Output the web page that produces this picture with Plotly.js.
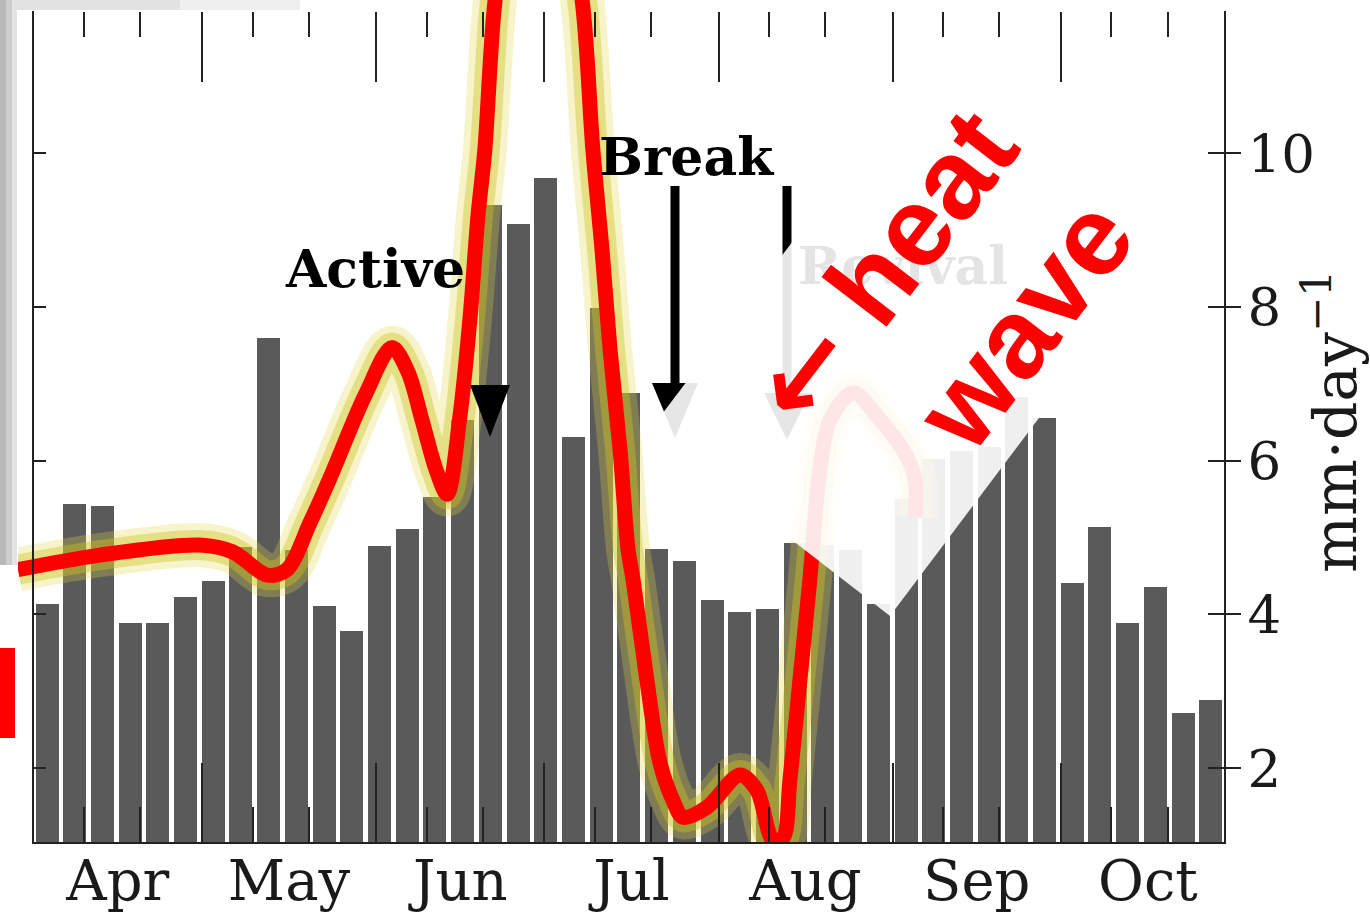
<!DOCTYPE html>
<html><head><meta charset="utf-8">
<script src="https://cdn.plot.ly/plotly-3.0.1.min.js"></script>
<style>html,body{margin:0;padding:0;background:#fff;}#chart{width:1370px;height:919px;}</style>
</head><body><div id="chart"></div>
<script>
// ---- data ----
const pentadRain = [4.13, 5.43, 5.41, 3.88, 3.88, 4.22, 4.43, 4.88, 7.59, 4.84,
  4.11, 3.78, 4.89, 5.11, 5.53, 6.53, 9.32, 9.08, 9.67, 6.31,
  7.98, 6.88, 4.85, 4.69, 4.19, 4.03, 4.07, 4.93, 4.90, 4.84,
  4.13, 5.50, 6.02, 6.13, 6.17, 6.82, 6.55, 4.41, 5.13, 3.88,
  4.36, 2.71, 2.89];
const curveX = [-1.05, 1.91, 5.52, 6.71, 7.94, 8.66, 9.49, 10.21, 11.48, 12.45,
  13.03, 13.53, 14.04, 14.44, 14.90, 15.27, 15.55, 15.80, 16.17, 16.71, 17.72,
  18.69, 19.31, 19.70, 20.03, 20.32, 20.68, 20.97, 21.15, 21.65, 22.12,
  22.59, 22.95, 23.82, 25.01, 25.62, 26.20, 26.56, 26.81, 27.17, 27.53,
  27.89, 28.26, 29.09, 30.06, 30.89, 31.33, 31.33];
const curveY = [4.58, 4.77, 4.90, 4.81, 4.51, 4.58, 5.19, 5.77, 6.85, 7.47,
  7.15, 6.53, 5.88, 5.56, 6.57, 7.87, 9.17, 10.04, 11.99, 13.17, 13.68,
  13.17, 11.99, 10.04, 8.74, 7.44, 6.14, 4.84, 4.45, 3.14, 2.07,
  1.58, 1.36, 1.49, 1.91, 1.71, 1.06, 1.09, 1.84, 3.14, 4.45,
  5.88, 6.53, 6.88, 6.53, 6.14, 5.75, 5.26];
const monthNames = ['Apr', 'May', 'Jun', 'Jul', 'Aug', 'Sep', 'Oct'];
const monthLengths = [30, 31, 30, 31, 31, 30, 31];
const yTicks = [2, 4, 6, 8, 10];
const yTitle = 'mm\u00b7day<sup>\u22121</sup>';
const labels = {active: 'Active', brk: 'Break', revival: 'Revival',
  heat: '<span style="font-family:DejaVu Sans">\u2190</span> heat<br>wave'};

// ---- geometry calibration (pixels of the 1370x919 page) ----
const L = 18, R = 1225, T = 0, B = 843;
const BAR0PX = 47, BARSTEP = 27.71, DAY0PX = 33.6, DAYPX = 5.614;
const TICK2PX = 768, PXPERUNIT = 76.875;
const idxFromPx = px => (px - BAR0PX) / BARSTEP;
const valFromPx = py => 2 + (TICK2PX - py) / PXPERUNIT;
const dayToIdx = d => idxFromPx(DAY0PX + DAYPX * d);
const px2x = px => (px - L) / (R - L);
const px2y = py => (B - py) / (B - T);

const starts = [0];
monthLengths.forEach(m => starts.push(starts[starts.length - 1] + m));
const boundaries = starts.slice(1, -1).map(dayToIdx);
const mids = monthLengths.map((m, i) => dayToIdx(starts[i] + m / 2));
const tenDay = [];
monthLengths.forEach((m, i) => { tenDay.push(dayToIdx(starts[i] + 9), dayToIdx(starts[i] + 19)); });

const xRange = [idxFromPx(L), idxFromPx(R)];
const yRange = [valFromPx(B), valFromPx(T)];

// invisible carrier traces so that the tick-only overlay axes get drawn
function carrier(xa, ya) {
  return {type: 'scatter', mode: 'markers', x: [xRange[0]], y: [yRange[0]], xaxis: xa, yaxis: ya,
          marker: {opacity: 0, size: 1}, hoverinfo: 'skip', showlegend: false};
}

const traces = [
  {type: 'bar', x: pentadRain.map((_, i) => i), y: pentadRain, width: 0.83,
   marker: {color: '#5a5a5a', line: {width: 0}}, hoverinfo: 'skip', xaxis: 'x', yaxis: 'y'},
  {type: 'scatter', mode: 'lines', x: curveX, y: curveY, hoverinfo: 'skip',
   line: {color: 'rgba(225,215,70,0.28)', width: 44, shape: 'spline', smoothing: 0.9}},
  {type: 'scatter', mode: 'lines', x: curveX, y: curveY, hoverinfo: 'skip',
   line: {color: 'rgba(205,195,30,0.42)', width: 30, shape: 'spline', smoothing: 0.9}},
  {type: 'scatter', mode: 'lines', x: curveX, y: curveY, hoverinfo: 'skip',
   line: {color: '#ff0000', width: 15, shape: 'spline', smoothing: 0.9}},
  carrier('x2', 'y'), carrier('x3', 'y'), carrier('x', 'y2'), carrier('x', 'y3')
];

const serif = 'DejaVu Serif, Liberation Serif, serif';
const tickCol = '#222';

function P(pts) { return 'M' + pts.map(p => px2x(p[0]) + ',' + px2y(p[1])).join(' L') + ' Z'; }
function lineShape(x0, y0, x1, y1, w, col) {
  return {type: 'line', xref: 'paper', yref: 'paper', x0: px2x(x0), y0: px2y(y0), x1: px2x(x1), y1: px2y(y1),
          line: {color: col, width: w}, layer: 'above'};
}
function pathShape(pts, col, op) {
  return {type: 'path', xref: 'paper', yref: 'paper', path: P(pts), fillcolor: col, opacity: op === undefined ? 1 : op,
          line: {width: 0}, layer: 'above'};
}
function rectShape(x0, y0, x1, y1, col) {
  return {type: 'rect', xref: 'paper', yref: 'paper', x0: px2x(x0), y0: px2y(y0), x1: px2x(x1), y1: px2y(y1),
          fillcolor: col, line: {width: 0}, layer: 'above'};
}

const shapes = [
  // frame
  lineShape(33, 11, 33, 843, 2, tickCol),
  lineShape(1225, 11, 1225, 843, 2, tickCol),
  lineShape(32, 843, 1226, 843, 2, tickCol),
  // arrows
  pathShape([[470, 385], [510, 385], [490, 437]], '#000'),
  lineShape(675, 186, 675, 392, 9, '#000'),
  pathShape([[652, 383], [698, 383], [675, 438]], '#000'),
  lineShape(787, 186, 787, 400, 9, '#000'),
  pathShape([[764, 393], [810, 393], [787, 440]], '#000'),
  // white text box
  pathShape([[650, 430], [945, 40], [1184, 225], [890, 616]], '#ffffff', 0.9),
  // left-edge artefacts
  rectShape(0, 0, 6, 565, '#b8b8b8'),
  rectShape(6, 0, 12, 565, '#cdcdcd'),
  rectShape(12, 0, 17, 565, '#e4e4e4'),
  rectShape(17, 0, 180, 10, '#e2e2e2'),
  rectShape(180, 0, 300, 10, '#efefef'),
  rectShape(0, 648, 15, 738, '#ff0000')
];

function ann(text, px, py, size, col, extra) {
  return Object.assign({text: text, xref: 'paper', yref: 'paper', x: px2x(px), y: px2y(py),
    xanchor: 'center', yanchor: 'middle', showarrow: false,
    font: {family: serif, size: size, color: col, weight: 700}}, extra || {});
}

const annotations = [
  ann(labels.active, 375, 268, 52, '#000'),
  ann(labels.brk, 686, 157, 52, '#000'),
  ann(labels.revival, 903, 265, 52, '#e4e4e4'),
  ann(labels.heat, 940, 311, 113, '#ff0000', {textangle: -52.6, align: 'right',
     font: {family: 'Liberation Sans, Arial, sans-serif', size: 113, color: '#ff0000', weight: 700}})
];

const layout = {
  width: 1370, height: 919,
  margin: {l: L, r: 1370 - R, t: T, b: 919 - B, pad: 0},
  paper_bgcolor: '#fff', plot_bgcolor: 'rgba(0,0,0,0)',
  showlegend: false, bargap: 0,
  xaxis: {range: xRange, tickmode: 'array', tickvals: mids, ticktext: monthNames, ticks: '',
          showline: false, showgrid: false, zeroline: false, fixedrange: true,
          tickfont: {family: serif, size: 56, color: '#1a1a1a'}},
  xaxis2: {overlaying: 'x', anchor: 'y', side: 'bottom', range: xRange, tickmode: 'array', tickvals: boundaries,
           ticks: 'inside', ticklen: 80, tickwidth: 2, tickcolor: tickCol, showticklabels: false,
           showline: false, showgrid: false, zeroline: false,
           minor: {tickmode: 'array', tickvals: tenDay, ticks: 'inside', ticklen: 36, tickwidth: 2, tickcolor: tickCol, showgrid: false}},
  xaxis3: {overlaying: 'x', anchor: 'free', position: px2y(11), side: 'top', range: xRange, tickmode: 'array', tickvals: boundaries,
           ticks: 'inside', ticklen: 70, tickwidth: 2, tickcolor: tickCol, showticklabels: false,
           showline: false, showgrid: false, zeroline: false,
           minor: {tickmode: 'array', tickvals: tenDay, ticks: 'inside', ticklen: 25, tickwidth: 2, tickcolor: tickCol, showgrid: false}},
  yaxis: {range: yRange, side: 'right', tickmode: 'array', tickvals: yTicks, ticks: 'outside', ticklen: 15,
          tickwidth: 2, tickcolor: tickCol, showline: false, showgrid: false, zeroline: false,
          ticklabelstandoff: -4,
          tickfont: {family: serif, size: 53, color: '#1a1a1a'},
          title: {text: yTitle, font: {family: serif, size: 60, color: '#1a1a1a'}, standoff: 10}},
  yaxis2: {overlaying: 'y', side: 'right', anchor: 'x', range: yRange, tickmode: 'array', tickvals: yTicks,
           ticks: 'inside', ticklen: 17, tickwidth: 2, tickcolor: tickCol, showticklabels: false,
           showline: false, showgrid: false, zeroline: false},
  yaxis3: {overlaying: 'y', side: 'left', anchor: 'free', position: px2x(33), range: yRange, tickmode: 'array', tickvals: yTicks,
           ticks: 'inside', ticklen: 12, tickwidth: 2, tickcolor: tickCol, showticklabels: false,
           showline: false, showgrid: false, zeroline: false},
  shapes: shapes,
  annotations: annotations
};

Plotly.newPlot('chart', traces, layout, {staticPlot: true, displayModeBar: false});
</script>
</body></html>
